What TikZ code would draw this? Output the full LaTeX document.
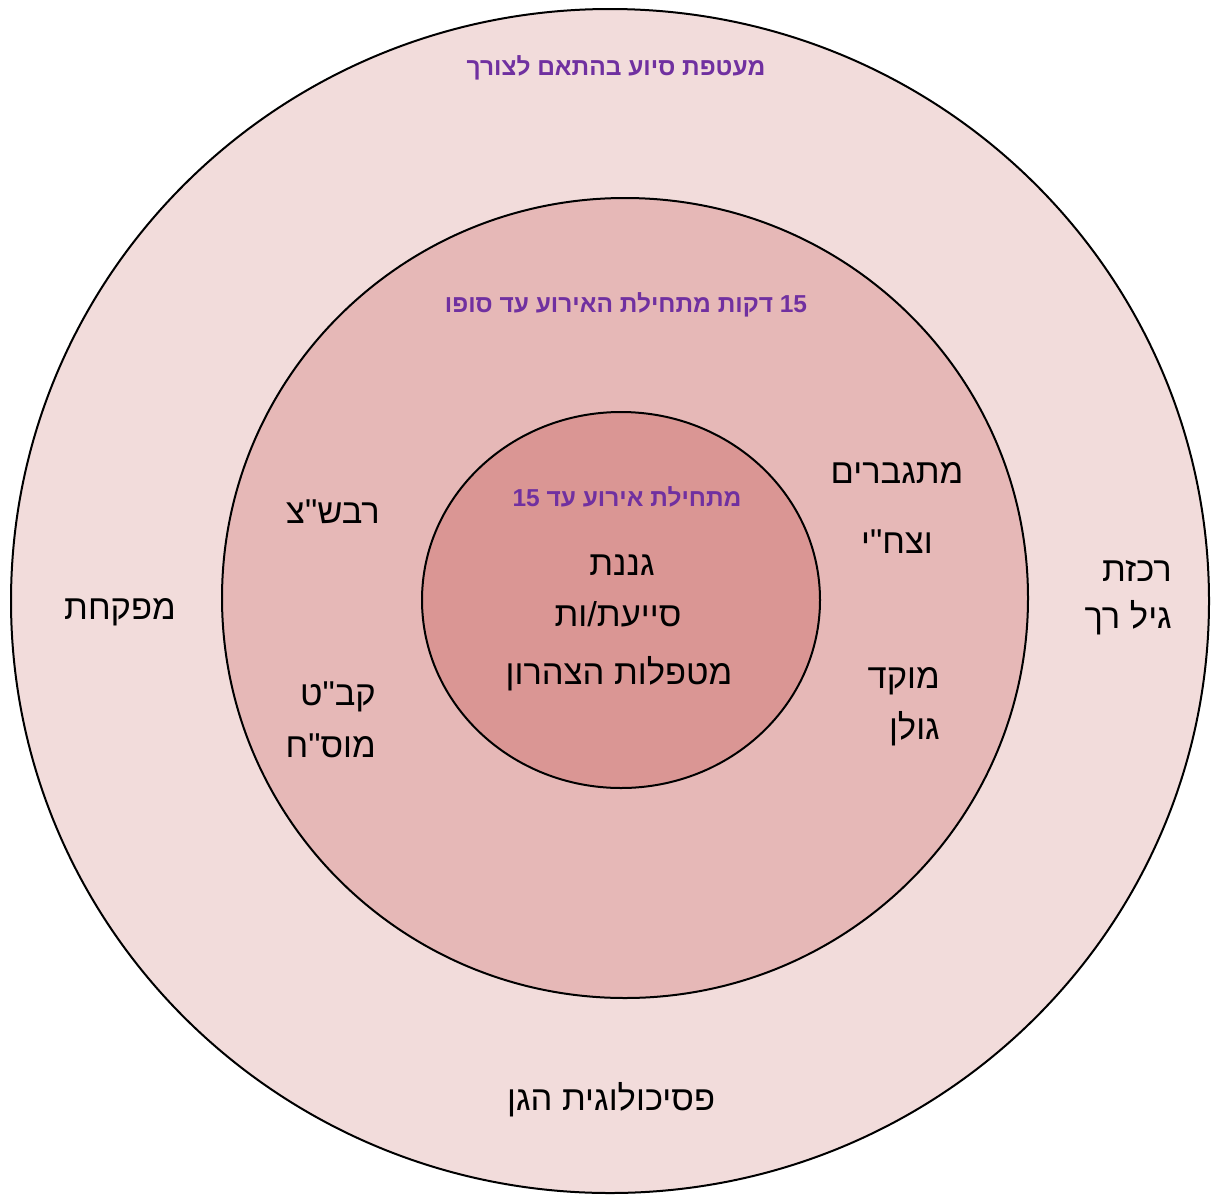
\documentclass[tikz,border=0pt]{standalone}
\usepackage{fontspec}
\setmainfont{Liberation Sans}
\newfontfamily\hebfont[Script=Hebrew]{Liberation Sans}
\TeXXeTstate=1
\definecolor{ringA}{HTML}{F2DCDB}
\definecolor{ringB}{HTML}{E6B8B7}
\definecolor{ringC}{HTML}{DA9694}
\definecolor{purp}{HTML}{7030A0}
\begin{document}
\begin{tikzpicture}[x=1pt,y=-1pt,
  ring/.style={draw=black,line width=2pt},
  blk/.style={font=\hebfont\fontsize{34.5}{40}\selectfont,text=black,inner sep=0pt,yshift=-4pt},
  ptx/.style={font=\hebfont\bfseries\fontsize{24.5}{29}\selectfont,text=purp,inner sep=0pt}]
\useasboundingbox (0,0) rectangle (1212,1194);
\fill[white] (0,0) rectangle (1212,1194);
\draw[ring,fill=ringA] (610,601) ellipse [x radius=599, y radius=592];
\draw[ring,fill=ringB] (625,598) ellipse [x radius=403, y radius=400];
\draw[ring,fill=ringC] (621,600) ellipse [x radius=199, y radius=188];
% purple titles
\node[ptx] (t1) at (616,68) {\beginR מעטפת סיוע בהתאם לצורך\endR};
\node[ptx] (t2) at (626,305) {\beginR \beginL15\endL{} דקות מתחילת האירוע עד סופו\endR};
\node[ptx] (t3) at (627,497) {\beginR מתחילת אירוע עד \beginL15\endL\endR};
% inner
\node[blk] (c1) at (622,561) {\beginR גננת\endR};
\node[blk] (c2) at (618,610) {\beginR סייעת/ות\endR};
\node[blk] (c3) at (619,670) {\beginR מטפלות הצהרון\endR};
% middle ring
\node[blk] (m1) at (897,469) {\beginR מתגברים\endR};
\node[blk] (m2) at (897,538) {\beginR וצח"י\endR};
\node[blk,anchor=east] (m3) at (940,677) {\beginR מוקד\endR};
\node[blk,anchor=east] (m4) at (940,725) {\beginR גולן\endR};
\node[blk] (m5) at (333,508) {\beginR רבש"צ\endR};
\node[blk,anchor=east] (m6) at (376,693) {\beginR קב"ט\endR};
\node[blk,anchor=east] (m7) at (376,742) {\beginR מוס"ח\endR};
% outer ring
\node[blk,anchor=east] (o1) at (1172,567) {\beginR רכזת\endR};
\node[blk,anchor=east] (o2) at (1172,614) {\beginR גיל רך\endR};
\node[blk] (o3) at (120,608) {\beginR מפקחת\endR};
\node[blk] (o4) at (611,1096) {\beginR פסיכולוגית הגן\endR};
\end{tikzpicture}
\end{document}
